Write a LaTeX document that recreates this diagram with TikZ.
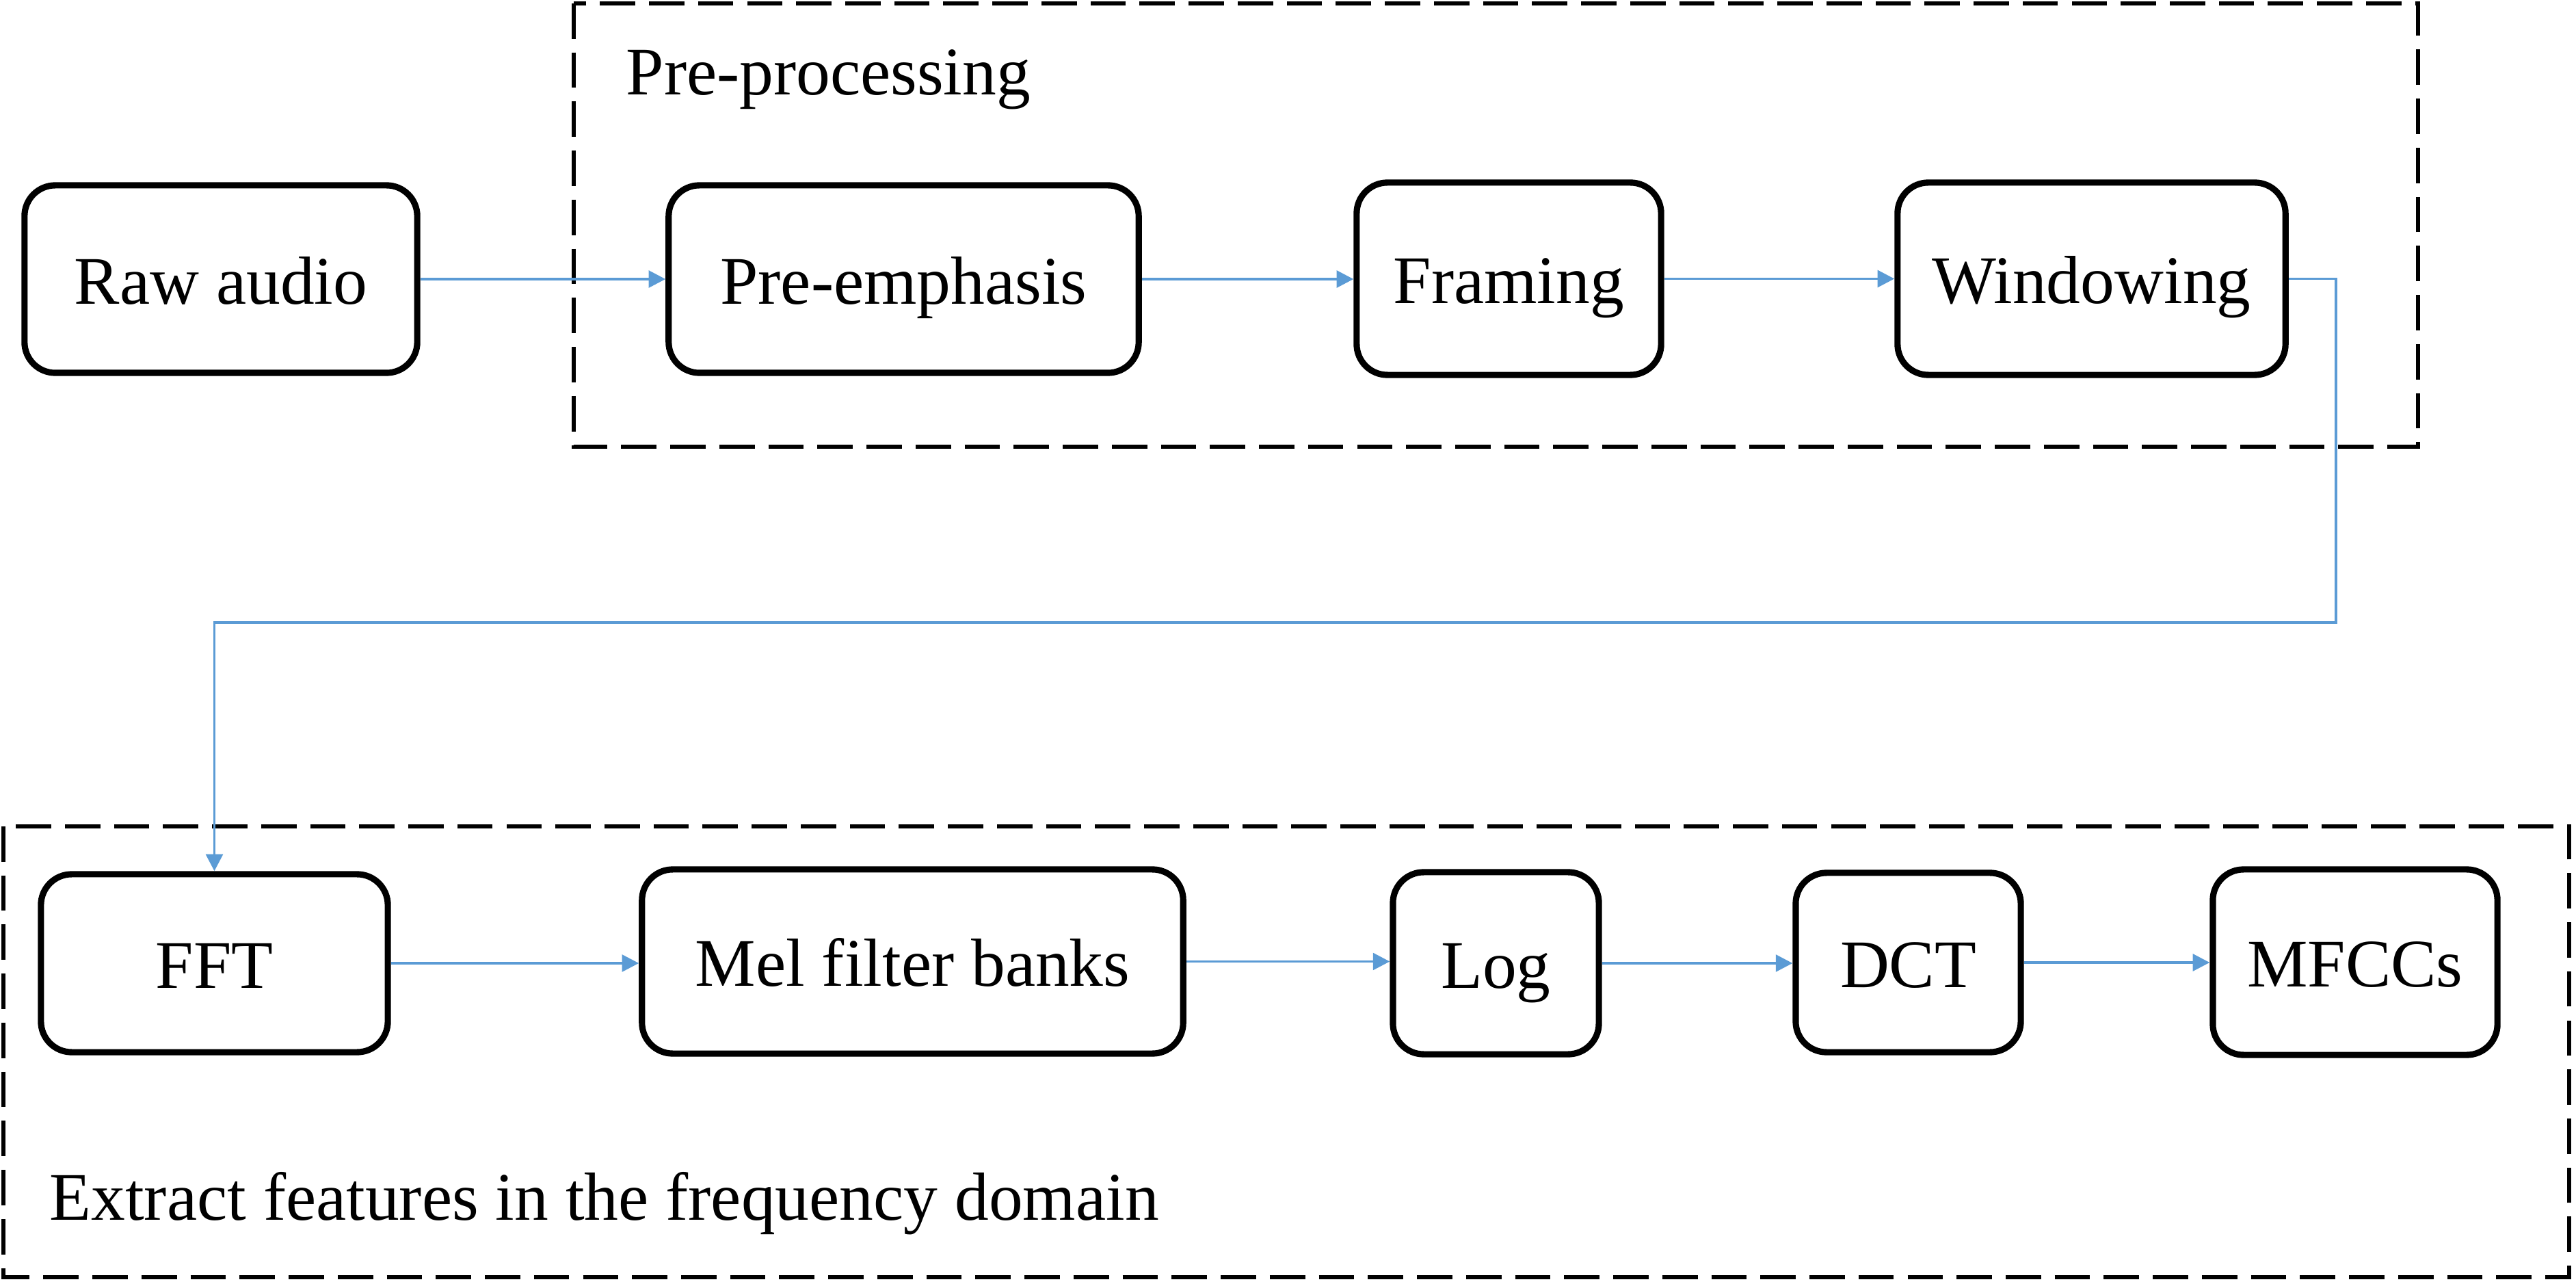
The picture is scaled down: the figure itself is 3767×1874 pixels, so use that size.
\documentclass[tikz,border=0pt]{standalone}
\usepackage{fontspec}
\setmainfont{Liberation Serif}
\usetikzlibrary{arrows.meta}
\definecolor{ablue}{RGB}{91,155,213}
\newcommand{\fs}{\fontsize{28.3}{34}\selectfont}
\tikzset{
  box/.style={draw, line width=2.6pt, rounded corners=0.45cm, inner sep=0pt, font=\fs, align=center, text height=0.72cm, text depth=0pt},
  conn/.style={draw=ablue, line width=1.1pt, -{Triangle[length=7pt,width=7pt]}},
  grp/.style={draw, line width=1.7pt, dash pattern=on 14.7pt off 5.7pt},
  lbl/.style={font=\fs, inner sep=0pt, anchor=base west},
}
\begin{document}
\begin{tikzpicture}[x=0.01cm, y=-0.01cm]
\useasboundingbox (0,0) rectangle (3767,1874);
% group boxes
\draw[grp] (839,5) rectangle (3536,653);
\draw[grp] (5,1208) rectangle (3757,1867);
\node[lbl] (lblpre) at (915,139) {Pre-processing};
\node[lbl] (lblext) at (72,1783) {Extract features in the frequency domain};
% top row
\node[box, minimum width=5.74cm, minimum height=2.74cm] (raw) at (323,408) {Raw audio};
\node[box, minimum width=6.87cm, minimum height=2.74cm] (pre) at (1321.5,408) {Pre-emphasis};
\node[box, minimum width=4.45cm, minimum height=2.81cm] (fram) at (2206.5,407.5) {Framing};
\node[box, minimum width=5.67cm, minimum height=2.81cm] (wind) at (3058.5,407.5) {Windowing};
% bottom row
\node[box, minimum width=5.07cm, minimum height=2.60cm] (fft) at (313.5,1408) {FFT};
\node[box, minimum width=7.91cm, minimum height=2.69cm] (mel) at (1334.5,1405.5) {Mel filter banks};
\node[box, minimum width=3.01cm, minimum height=2.66cm] (log) at (2187.5,1408) {Log};
\node[box, minimum width=3.29cm, minimum height=2.62cm] (dct) at (2790.5,1407) {DCT};
\node[box, minimum width=4.16cm, minimum height=2.71cm] (mfcc) at (3444,1406.5) {MFCCs};
% connectors
\draw[conn] (raw.east) -- (pre.west);
\draw[conn] (pre.east) -- (pre.east -| fram.west);
\draw[conn] (fram.east) -- (fram.east -| wind.west);
\coordinate (bend) at (3416,910);
\draw[conn] (wind.east) -| (bend) -| (fft.north);
\draw[conn] (fft.east) -- (fft.east -| mel.west);
\draw[conn] (mel.east) -- (mel.east -| log.west);
\draw[conn] (log.east) -- (log.east -| dct.west);
\draw[conn] (dct.east) -- (dct.east -| mfcc.west);
\end{tikzpicture}
\end{document}
